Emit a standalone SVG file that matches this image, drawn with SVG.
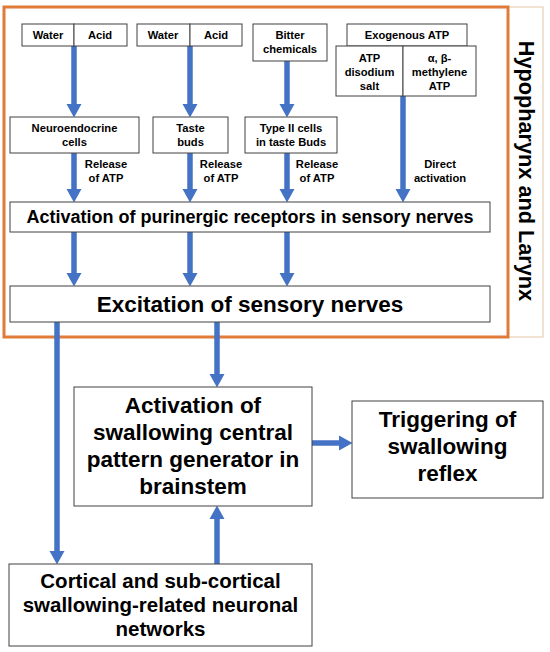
<svg xmlns="http://www.w3.org/2000/svg" width="550" height="652" viewBox="0 0 550 652">
<defs>
<style>
.bx{fill:#fff;stroke:#404040;stroke-width:1}
.t{font-family:"Liberation Sans",Arial,sans-serif;font-weight:bold;fill:#000;text-anchor:middle}
.s{font-size:11.2px}
.m{font-size:18px}
.l{font-size:22.5px}
.b{font-size:22.5px}
.c{font-size:20.5px}
.ar{stroke:#4472C4;stroke-width:5.5;fill:none}
</style>
<marker id="ah" markerUnits="userSpaceOnUse" markerWidth="14" markerHeight="16" viewBox="0 -8 14 16" refX="0" refY="0" orient="auto">
<path d="M0,-7.5 L13.5,0 L0,7.5 z" fill="#4472C4"/>
</marker>
</defs>
<rect width="550" height="652" fill="#fff"/>
<g id="region">
<rect x="508" y="7" width="35" height="330" fill="#fff" stroke="#e2c7a8" stroke-width="1"/>
<rect x="4" y="7" width="504" height="330" fill="none" stroke="#E07B39" stroke-width="3"/>
<text class="t" font-size="21.7" transform="translate(519,171) rotate(90)" text-anchor="middle">Hypopharynx and Larynx</text>
</g>
<g id="connectors">
<line class="ar" x1="74" y1="46" x2="74" y2="104" marker-end="url(#ah)"/>
<line class="ar" x1="190" y1="46" x2="190" y2="104" marker-end="url(#ah)"/>
<line class="ar" x1="287" y1="61" x2="287" y2="104" marker-end="url(#ah)"/>
<line class="ar" x1="403" y1="96" x2="403" y2="189" marker-end="url(#ah)"/>
<line class="ar" x1="74" y1="153" x2="74" y2="189" marker-end="url(#ah)"/>
<line class="ar" x1="190" y1="153" x2="190" y2="189" marker-end="url(#ah)"/>
<line class="ar" x1="287" y1="153" x2="287" y2="189" marker-end="url(#ah)"/>
<line class="ar" x1="74" y1="232" x2="74" y2="273" marker-end="url(#ah)"/>
<line class="ar" x1="190" y1="232" x2="190" y2="273" marker-end="url(#ah)"/>
<line class="ar" x1="287" y1="232" x2="287" y2="273" marker-end="url(#ah)"/>
<line class="ar" x1="57" y1="322" x2="57" y2="551" marker-end="url(#ah)"/>
<line class="ar" x1="217" y1="322" x2="217" y2="374" marker-end="url(#ah)"/>
<line class="ar" x1="217" y1="564" x2="217" y2="519" marker-end="url(#ah)"/>
<line class="ar" x1="312" y1="443" x2="339" y2="443" marker-end="url(#ah)"/>
<text class="t s" x="106" y="168">Release</text>
<text class="t s" x="106" y="182">of ATP</text>
<text class="t s" x="221" y="168">Release</text>
<text class="t s" x="221" y="182">of ATP</text>
<text class="t s" x="317" y="168">Release</text>
<text class="t s" x="317" y="182">of ATP</text>
<text class="t s" x="440" y="168">Direct</text>
<text class="t s" x="440" y="182">activation</text>
</g>
<g id="water-acid-1">
<rect class="bx" x="22" y="24" width="52" height="22"/>
<rect class="bx" x="74" y="24" width="53" height="22"/>
<text class="t s" x="48" y="39">Water</text>
<text class="t s" x="100" y="39">Acid</text>
</g>
<g id="water-acid-2">
<rect class="bx" x="137" y="24" width="53" height="22"/>
<rect class="bx" x="190" y="24" width="52" height="22"/>
<text class="t s" x="163" y="39">Water</text>
<text class="t s" x="216" y="39">Acid</text>
</g>
<g id="bitter">
<rect class="bx" x="253" y="24" width="74" height="37"/>
<text class="t s" x="290" y="39">Bitter</text>
<text class="t s" x="290" y="53">chemicals</text>
</g>
<g id="exogenous-atp">
<rect class="bx" x="347" y="24" width="120" height="22"/>
<text class="t s" x="407" y="39">Exogenous ATP</text>
<rect class="bx" x="336" y="46" width="67" height="50"/>
<rect class="bx" x="403" y="46" width="73" height="50"/>
<text class="t s" x="369.5" y="62">ATP</text>
<text class="t s" x="369.5" y="76">disodium</text>
<text class="t s" x="369.5" y="90">salt</text>
<text class="t s" x="439.5" y="62">α, β-</text>
<text class="t s" x="439.5" y="76">methylene</text>
<text class="t s" x="439.5" y="90">ATP</text>
</g>
<g id="neuroendocrine">
<rect class="bx" x="10" y="117" width="129" height="36"/>
<text class="t s" x="74.5" y="132">Neuroendocrine</text>
<text class="t s" x="74.5" y="146">cells</text>
</g>
<g id="taste-buds">
<rect class="bx" x="153" y="117" width="75" height="36"/>
<text class="t s" x="190.5" y="132">Taste</text>
<text class="t s" x="190.5" y="146">buds</text>
</g>
<g id="type2">
<rect class="bx" x="245" y="117" width="92" height="36"/>
<text class="t s" x="291" y="132">Type II cells</text>
<text class="t s" x="291" y="146">in taste Buds</text>
</g>
<g id="purinergic">
<rect class="bx" x="10" y="202" width="480" height="30"/>
<text class="t m" x="250" y="223">Activation of purinergic receptors in sensory nerves</text>
</g>
<g id="excitation">
<rect class="bx" x="10" y="286" width="480" height="36"/>
<text class="t l" x="250" y="312">Excitation of sensory nerves</text>
</g>
<g id="cpg">
<rect class="bx" x="74" y="387" width="238" height="119"/>
<text class="t b" x="193" y="413">Activation of</text>
<text class="t b" x="193" y="440">swallowing central</text>
<text class="t b" x="193" y="467">pattern generator in</text>
<text class="t b" x="193" y="494">brainstem</text>
</g>
<g id="trigger">
<rect class="bx" x="352" y="401" width="191" height="97"/>
<text class="t b" x="447.5" y="427">Triggering of</text>
<text class="t b" x="447.5" y="454">swallowing</text>
<text class="t b" x="447.5" y="481">reflex</text>
</g>
<g id="cortical">
<rect class="bx" x="9" y="564" width="303" height="82"/>
<text class="t c" x="160.5" y="588">Cortical and sub-cortical</text>
<text class="t c" x="160.5" y="612">swallowing-related neuronal</text>
<text class="t c" x="160.5" y="636">networks</text>
</g>
</svg>
